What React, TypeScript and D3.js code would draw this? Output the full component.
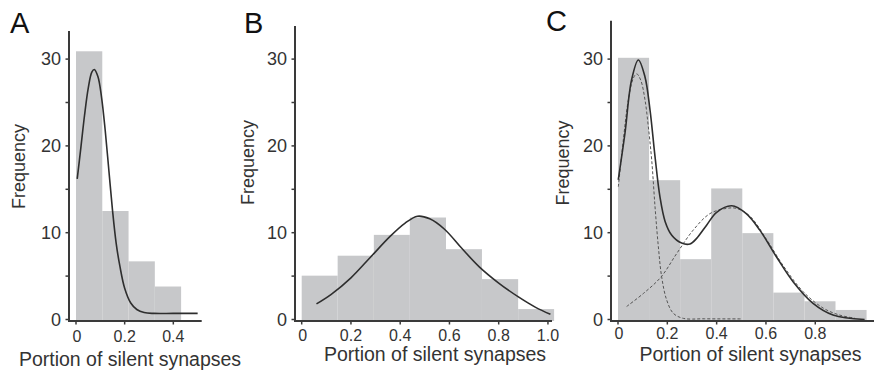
import React from "react";
import * as d3 from "d3";

// ---------- Data ----------
const yTicks = [0, 5, 10, 15, 20, 25, 30];
const yTickLabels = ["0", "", "10", "", "20", "", "30"];

const edgesA = [0, 0.108, 0.216, 0.324, 0.432];
const freqA = [30.9, 12.5, 6.7, 3.8];
const xTicksA = [0, 0.2, 0.4];
const xTickLabelsA = ["0", "0.2", "0.4"];
const fitA: [number, number][] = [
  [0.005, 16.2], [0.02, 19.8], [0.035, 23.5], [0.05, 26.6], [0.065, 28.5],
  [0.075, 28.8], [0.09, 28.0], [0.105, 25.6], [0.12, 21.8], [0.135, 17.2],
  [0.15, 12.6], [0.165, 8.8], [0.18, 6.2], [0.2, 3.6], [0.225, 1.9],
  [0.25, 1.15], [0.28, 0.8], [0.32, 0.7], [0.4, 0.7], [0.5, 0.7],
];

const edgesB = [0, 0.146, 0.293, 0.439, 0.586, 0.732, 0.879, 1.025];
const freqB = [5.05, 7.35, 9.75, 11.75, 8.1, 4.65, 1.2];
const xTicksB = [0, 0.2, 0.4, 0.6, 0.8, 1.0];
const xTickLabelsB = ["0", "0.2", "0.4", "0.6", "0.8", "1.0"];
const fitB: [number, number][] = [
  [0.06, 1.8], [0.12, 2.9], [0.2, 4.8], [0.28, 7.2], [0.36, 9.6],
  [0.42, 11.1], [0.47, 11.9], [0.52, 11.6], [0.58, 10.4], [0.65, 8.2],
  [0.72, 6.1], [0.8, 4.2], [0.88, 2.6], [0.95, 1.4], [1.01, 0.6],
];

const edgesC = [0, 0.126, 0.252, 0.378, 0.504, 0.63, 0.756, 0.882, 1.008];
const freqC = [30.15, 16.05, 6.95, 15.1, 9.95, 3.1, 2.1, 1.1];
const xTicksC = [0, 0.2, 0.4, 0.6, 0.8];
const xTickLabelsC = ["0", "0.2", "0.4", "0.6", "0.8"];
const fitC: [number, number][] = [
  [0.001, 16.1], [0.028, 21.4], [0.055, 27.6], [0.0825, 29.9], [0.109, 28.0],
  [0.13, 24.1], [0.15, 18.8], [0.17, 14.15], [0.191, 11.3], [0.218, 9.7],
  [0.258, 8.8], [0.292, 8.7], [0.319, 9.35], [0.36, 10.9], [0.4, 12.35],
  [0.461, 13.1], [0.52, 12.2], [0.575, 10.3], [0.643, 7.2], [0.71, 4.36],
  [0.791, 1.86], [0.872, 0.52], [1.0, 0.0],
];
const compC1: [number, number][] = [
  [0.0014, 15.3], [0.0216, 20.7], [0.0419, 25.3], [0.0622, 27.8], [0.0757, 28.3],
  [0.0919, 27.6], [0.1095, 25.3], [0.123, 22.2], [0.1366, 18.4], [0.1501, 13.0],
  [0.1636, 8.4], [0.1771, 4.9], [0.1974, 2.25], [0.2244, 0.71], [0.265, 0.13],
  [0.35, 0.08], [0.5, 0.07],
];
const compC2: [number, number][] = [
  [0.035, 1.5], [0.103, 3.0], [0.1745, 4.9], [0.238, 7.6], [0.305, 10.3],
  [0.373, 12.2], [0.44, 12.8], [0.481, 12.8], [0.535, 11.9], [0.603, 9.2],
  [0.67, 6.2], [0.751, 3.2], [0.833, 1.3], [0.9, 0.5], [0.96, 0.15],
];

// ---------- Drawing ----------
const FONT = "'Liberation Sans', Arial, Helvetica, sans-serif";
const AX = "#3a3a3a";
const BAR = "#c7c8ca";
const TXT = "#333";

type PanelProps = {
  letter: string;
  letterX: number;
  letterY: number;
  axisX: number;
  axisTop: number;
  axisY: number;
  xAxisEnd: number;
  x0: number;
  pxPerUnit: number;
  edges: number[];
  freq: number[];
  xTicks: number[];
  xTickLabels: string[];
  tickDy: number;
  fit: [number, number][];
  comps?: [number, number][][];
  ylabX: number;
  ylabY: number;
  xlabX: number;
  xlabY: number;
};

const yScale = d3.scaleLinear().domain([0, 30]).range([319.5, 59.1]);

function Panel(p: PanelProps) {
  const x = d3.scaleLinear().domain([0, 1]).range([p.x0, p.x0 + p.pxPerUnit]);
  const line = d3
    .line<[number, number]>()
    .x((d) => x(d[0]))
    .y((d) => yScale(d[1]))
    .curve(d3.curveCatmullRom.alpha(0.5));
  return (
    <g>
      {p.freq.map((f, i) => (
        <rect
          key={i}
          x={x(p.edges[i])}
          y={yScale(f)}
          width={x(p.edges[i + 1]) - x(p.edges[i])}
          height={p.axisY - yScale(f)}
          fill={BAR}
        />
      ))}
      {(p.comps || []).map((c, i) => (
        <path key={i} d={line(c) || ""} fill="none" stroke="#555" strokeWidth={1} strokeDasharray="3,2" />
      ))}
      <path d={line(p.fit) || ""} fill="none" stroke="#2e2e2e" strokeWidth={1.6} />
      {/* y axis */}
      <line x1={p.axisX} x2={p.axisX} y1={p.axisTop} y2={p.axisY + 1} stroke={AX} strokeWidth={2} />
      {yTicks.map((t, i) => (
        <g key={i}>
          <line x1={p.axisX - 3.5} x2={p.axisX} y1={yScale(t)} y2={yScale(t)} stroke={AX} strokeWidth={1.5} />
          {yTickLabels[i] && (
            <text
              x={p.axisX - 8}
              y={yScale(t) + 6}
              textAnchor="end"
              fontFamily={FONT}
              fontSize={18}
              fill={TXT}
            >
              {yTickLabels[i]}
            </text>
          )}
        </g>
      ))}
      {/* x axis */}
      <line x1={p.axisX - 1} x2={p.xAxisEnd} y1={p.axisY} y2={p.axisY} stroke={AX} strokeWidth={2} />
      {p.xTicks.map((t, i) => (
        <g key={i}>
          <line x1={x(t)} x2={x(t)} y1={p.axisY} y2={p.axisY + 3.5} stroke={AX} strokeWidth={1.5} />
          <text
            x={x(t) + (p.xTickLabels[i] === "0" ? 1 : 0)}
            y={p.axisY + p.tickDy}
            textAnchor="middle"
            fontFamily={FONT}
            fontSize={16}
            fill={TXT}
          >
            {p.xTickLabels[i]}
          </text>
        </g>
      ))}
      <text
        transform={`translate(${p.ylabX},${p.ylabY}) rotate(-90)`}
        textAnchor="middle"
        dominantBaseline="central"
        fontFamily={FONT}
        fontSize={18}
        fill={TXT}
      >
        Frequency
      </text>
      <text x={p.xlabX} y={p.xlabY} textAnchor="middle" fontFamily={FONT} fontSize={19.5} fill={TXT}>
        Portion of silent synapses
      </text>
      <text x={p.letterX} y={p.letterY} fontFamily={FONT} fontSize={29} fill="#111">
        {p.letter}
      </text>
    </g>
  );
}

export default function App() {
  return (
    <svg
      width={878}
      height={376}
      style={{ position: "absolute", left: 0, top: 0, background: "#fff" }}
    >
      <Panel
        letter="A" letterX={10} letterY={33}
        axisX={69} axisTop={31} axisY={321} xAxisEnd={201.7}
        x0={76} pxPerUnit={243.3}
        edges={edgesA} freq={freqA} xTicks={xTicksA} xTickLabels={xTickLabelsA} tickDy={21}
        fit={fitA}
        ylabX={18.5} ylabY={166.5} xlabX={130} xlabY={366}
      />
      <Panel
        letter="B" letterX={244} letterY={33}
        axisX={295} axisTop={26} axisY={321} xAxisEnd={552}
        x0={301.7} pxPerUnit={246.25}
        edges={edgesB} freq={freqB} xTicks={xTicksB} xTickLabels={xTickLabelsB} tickDy={20}
        fit={fitB}
        ylabX={248.3} ylabY={162.5} xlabX={435} xlabY={361}
      />
      <Panel
        letter="C" letterX={546} letterY={31}
        axisX={611} axisTop={20.7} axisY={321} xAxisEnd={874}
        x0={618} pxPerUnit={246.6}
        edges={edgesC} freq={freqC} xTicks={xTicksC} xTickLabels={xTickLabelsC} tickDy={18}
        fit={fitC} comps={[compC1, compC2]}
        ylabX={563.3} ylabY={163} xlabX={750.5} xlabY={360.5}
      />
    </svg>
  );
}
